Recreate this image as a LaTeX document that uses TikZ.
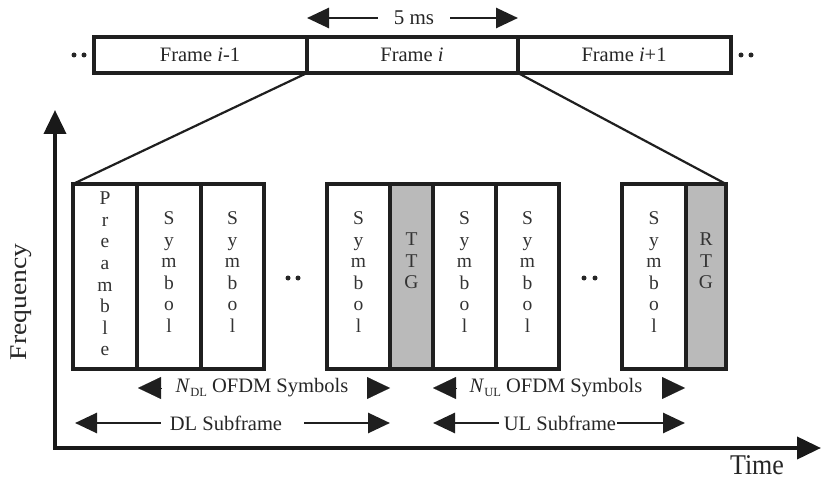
\documentclass[tikz,border=0pt]{standalone}
\usepackage{fontspec}
\setmainfont{Liberation Serif}
\usetikzlibrary{arrows.meta}
\begin{document}
\begin{tikzpicture}[x=1pt,y=-1pt,
  cellbox/.style={draw=black!88, line width=3.9pt, line join=miter},
  gapbox/.style={cellbox, fill=black!27},
  barbox/.style={draw=black!88, line width=3.9pt, line join=miter},
  vtext/.style={align=center, inner sep=0pt, font=\fontsize{19.5}{21.6}\selectfont, text=black!80},
  lbl/.style={inner sep=0pt, font=\fontsize{20.5}{22}\selectfont, text=black!85},
  zoomline/.style={draw=black!88, line width=2.2pt},
  axis/.style={draw=black!90, line width=3.9pt, line join=miter},
  bigtip/.style={-{Triangle[length=22pt,width=20pt]}, draw=black!88, line width=2.8pt},
  tri/.style={-{Triangle[length=23pt,width=22pt]}, draw=black!88, line width=0.1pt},
  dotc/.style={fill=black!85, draw=none}
]
\useasboundingbox (0,0) rectangle (822,481);

% ---- top frame bar
\draw[barbox] (94,37) rectangle (307,73);
\draw[barbox] (307,37) rectangle (518,73);
\draw[barbox] (518,37) rectangle (731,73);
\node[lbl] (f1) at (200,55) {Frame \textit{i}-1};
\node[lbl] (f2) at (412,55) {Frame \textit{i}};
\node[lbl] (f3) at (624,55) {Frame \textit{i}+1};
\coordinate (d1) at (307,73);
\coordinate (d2) at (518,73);

% dots
\foreach \px/\py in {74/55,84/55,741/55,751/55,288/278,298/278,584/278,595/278}
  \fill[dotc] (\px,\py) circle (2.5pt);

% 5 ms
\node[lbl, font=\fontsize{21}{22}\selectfont] (ms) at (414,18) {5 ms};
\coordinate (msL) at (307,18);
\coordinate (msR) at (518,18);
\draw[bigtip] (ms.west) ++(-16,0) -- (msL);
\draw[bigtip] (ms.east) ++(16,0) -- (msR);

% ---- subframe cells
\draw[cellbox] (73,184) rectangle (137,369);
\draw[cellbox] (137,184) rectangle (201,369);
\draw[cellbox] (201,184) rectangle (264,369);
\draw[cellbox] (327,184) rectangle (390,369);
\draw[gapbox]  (390,184) rectangle (433,369);
\draw[cellbox] (433,184) rectangle (496,369);
\draw[cellbox] (496,184) rectangle (559,369);
\draw[cellbox] (622,184) rectangle (686,369);
\draw[gapbox]  (686,184) rectangle (726,369);
\coordinate (boxTL) at (73,184);
\coordinate (boxTR) at (726,184);

\node[vtext] (pre) at (105,274) {P\\r\\e\\a\\m\\b\\l\\e};
\node[vtext] (s1) at (169,272) {S\\y\\m\\b\\o\\l};
\node[vtext] (s2) at (232.5,272) {S\\y\\m\\b\\o\\l};
\node[vtext] (s3) at (358.5,272) {S\\y\\m\\b\\o\\l};
\node[vtext] (ttg) at (411.5,261) {T\\T\\G};
\node[vtext] (s4) at (464.5,272) {S\\y\\m\\b\\o\\l};
\node[vtext] (s5) at (527.5,272) {S\\y\\m\\b\\o\\l};
\node[vtext] (s6) at (654,272) {S\\y\\m\\b\\o\\l};
\node[vtext] (rtg) at (706,261) {R\\T\\G};

% zoom lines
\draw[zoomline] (d1) -- (boxTL);
\draw[zoomline] (d2) -- (boxTR);

% ---- OFDM symbol arrows
\node[lbl] (ndl) at (262,388) {\textit{N}\raisebox{-0.35ex}{\fontsize{12.5}{12.5}\selectfont DL} OFDM Symbols};
\node[lbl] (nul) at (556,388) {\textit{N}\raisebox{-0.35ex}{\fontsize{12.5}{12.5}\selectfont UL} OFDM Symbols};
\coordinate (ndlL) at (138,388);
\coordinate (ndlR) at (390,388);
\coordinate (nulL) at (433,388);
\coordinate (nulR) at (685,388);
\draw[tri] ([xshift=23pt]ndlL) -- (ndlL);
\draw[tri] ([xshift=-23pt]ndlR) -- (ndlR);
\draw[tri] ([xshift=23pt]nulL) -- (nulL);
\draw[tri] ([xshift=-23pt]nulR) -- (nulR);

% ---- subframe arrows
\node[lbl] (dls) at (226,423) {DL Subframe};
\node[lbl] (uls) at (560,423) {UL Subframe};
\coordinate (dlL) at (75,423);
\coordinate (dlR) at (390,423);
\coordinate (ulL) at (433,423);
\coordinate (ulR) at (685,423);
\draw[bigtip] (dls.west) ++(-9,0) -- (dlL);
\draw[bigtip] (dls.east) ++(22,0) -- (dlR);
\draw[bigtip] (uls.west) ++(-5,0) -- (ulL);
\draw[bigtip] (uls.east) ++(1,0) -- (ulR);

% ---- axes
\coordinate (org) at (55,448);
\coordinate (ftop) at (55,110);
\coordinate (tend) at (821,448);
\draw[axis, {Triangle[length=24pt,width=22pt]}-{Triangle[length=24pt,width=22pt]}] (ftop) -- (org) -- (tend);
\node[inner sep=0pt, rotate=90, font=\fontsize{24}{24}\selectfont, text=black!85] (freq) at (21,302) {\scalebox{1.15}[1]{Frequency}};
\node[inner sep=0pt, font=\fontsize{26}{26}\selectfont, text=black!85] (time) at (757,465) {\scalebox{1}[1.1]{Time}};
\end{tikzpicture}
\end{document}
